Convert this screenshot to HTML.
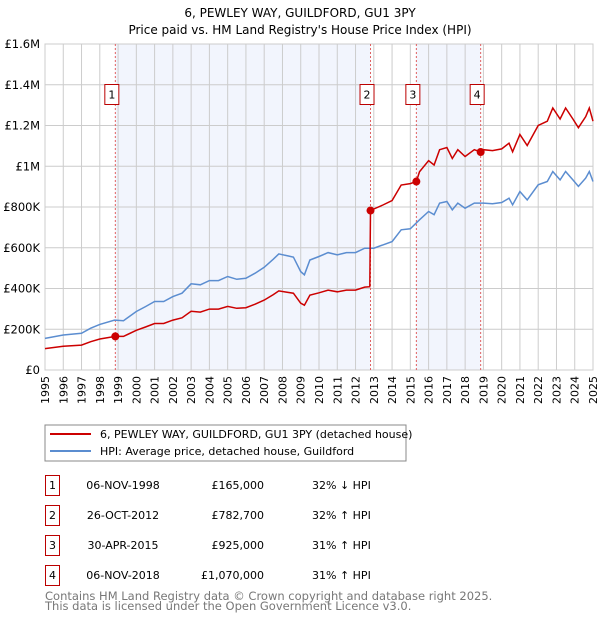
<!DOCTYPE html>
<html><head><meta charset="utf-8"><style>
body{margin:0;background:#fff;font-family:"DejaVu Sans","Liberation Sans",sans-serif;}
svg text{font-family:"DejaVu Sans","Liberation Sans",sans-serif;}
</style></head><body>
<svg id="c" width="600" height="620" xmlns="http://www.w3.org/2000/svg">
<text x="300" y="17" text-anchor="middle" font-size="12">6, PEWLEY WAY, GUILDFORD, GU1 3PY</text>
<text x="300" y="34" text-anchor="middle" font-size="12">Price paid vs. HM Land Registry's House Price Index (HPI)</text>
<g id="plot"></g>
<rect x="45" y="425" width="361" height="36" fill="#fff" stroke="#888"/>
<line x1="50" y1="434" x2="91" y2="434" stroke="#cc0000" stroke-width="2"/>
<text x="100" y="438" font-size="11">6, PEWLEY WAY, GUILDFORD, GU1 3PY (detached house)</text>
<line x1="50" y1="451" x2="91" y2="451" stroke="#5b8dd0" stroke-width="2"/>
<text x="100" y="455" font-size="11">HPI: Average price, detached house, Guildford</text>
<g id="table" font-size="11"></g>
<text x="45" y="600" font-size="11.5" fill="#777">Contains HM Land Registry data © Crown copyright and database right 2025.</text>
<text x="45" y="610" font-size="11.5" fill="#777">This data is licensed under the Open Government Licence v3.0.</text>
</svg>
<script>
const hpiDates=[1995,1996,1997,1997.5,1998,1998.8,1999.3,2000,2000.5,2001,2001.5,2002,2002.5,2003,2003.5,2004,2004.5,2005,2005.5,2006,2006.5,2007,2007.5,2007.8,2008.3,2008.6,2009,2009.2,2009.5,2010,2010.5,2011,2011.5,2012,2012.5,2013,2013.5,2014,2014.5,2015,2015.5,2016,2016.3,2016.6,2017,2017.3,2017.6,2018,2018.5,2019,2019.5,2020,2020.4,2020.6,2021,2021.4,2022,2022.5,2022.8,2023.2,2023.5,2023.9,2024.2,2024.6,2024.8,2025];
const hpiValues=[155,172,180,205,224,245,242,287,311,336,336,360,377,423,418,439,439,459,445,450,475,504,544,570,560,554,483,467,540,557,576,565,576,576,598,598,614,630,688,693,737,778,762,819,827,786,819,794,819,819,816,822,843,811,876,835,909,925,974,933,974,933,901,942,974,925];
const priceDates=[1995,1996,1997,1997.5,1998,1998.85,1999.3,2000,2000.5,2001,2001.5,2002,2002.5,2003,2003.5,2004,2004.5,2005,2005.5,2006,2006.5,2007,2007.5,2007.8,2008.3,2008.6,2009,2009.2,2009.5,2010,2010.5,2011,2011.5,2012,2012.5,2012.78,2012.82,2013,2013.5,2014,2014.5,2015,2015.33,2015.5,2016,2016.3,2016.6,2017,2017.3,2017.6,2018,2018.5,2018.85,2019,2019.5,2020,2020.4,2020.6,2021,2021.4,2022,2022.5,2022.8,2023.2,2023.5,2023.9,2024.2,2024.6,2024.8,2025];
const priceValues=[105,117,122,139,152,165,165,195,211,228,228,245,256,288,284,299,299,312,303,306,323,343,370,388,381,377,328,318,367,379,392,384,392,392,407,409,782.7,790,810,832,908,915,925,973,1027,1006,1081,1092,1038,1081,1048,1081,1070,1081,1077,1085,1113,1071,1156,1102,1200,1221,1286,1232,1286,1232,1189,1243,1286,1221];
const saleLabels=["1","2","3","4"];
const saleDates=[1998.85,2012.82,2015.33,2018.85];
const salePrices=[165,782.7,925,1070];
const saleDateText=["06-NOV-1998","26-OCT-2012","30-APR-2015","06-NOV-2018"];
const salePriceText=["£165,000","£782,700","£925,000","£1,070,000"];
const saleHpiText=["32% ↓ HPI","32% ↑ HPI","31% ↑ HPI","31% ↑ HPI"];
const yTicks=[0,200,400,600,800,1000,1200,1400,1600];
const yTickLabels=["£0","£200K","£400K","£600K","£800K","£1M","£1.2M","£1.4M","£1.6M"];
const X0=45,X1=593,Y0=370,Y1=44;
const xs=y=>X0+(y-1995)/30*(X1-X0);
const ys=v=>Y0-v/1600*(Y0-Y1);
const NS="http://www.w3.org/2000/svg";
const plot=document.getElementById('plot');
function mk(tag,attrs,parent){const e=document.createElementNS(NS,tag);for(const k in attrs)e.setAttribute(k,attrs[k]);(parent||plot).appendChild(e);return e;}
let e;
e=mk('rect',{x:xs(saleDates[0]),y:Y1,width:xs(saleDates[1])-xs(saleDates[0]),height:Y0-Y1,fill:'#f2f5fd'});


e=mk('rect',{x:xs(saleDates[2]),y:Y1,width:xs(saleDates[3])-xs(saleDates[2]),height:Y0-Y1,fill:'#f2f5fd'});


for(let yr=1995;yr<=2025;yr++){
 e=mk('line',{x1:xs(yr),x2:xs(yr),y1:Y1,y2:Y0,stroke:'#ccc','stroke-width':1});
 
 
 e=mk('text',{x:0,y:0,'font-size':11,'text-anchor':'end',transform:`translate(${xs(yr)+4},${Y0+6}) rotate(-90)`});
 e.textContent=String(yr);
 
 
}
yTicks.forEach((v,i)=>{
 e=mk('line',{x1:X0,x2:X1,y1:ys(v),y2:ys(v),stroke:'#ccc','stroke-width':1});
 
 
 e=mk('text',{x:40,y:ys(v)+4,'font-size':11.5,'text-anchor':'end'});
 e.textContent=yTickLabels[i];
 
 
});
e=mk('rect',{x:X0,y:Y1,width:X1-X0,height:Y0-Y1,fill:'none',stroke:'#ccc'});


saleDates.forEach((d,i)=>{
 e=mk('line',{x1:xs(d),x2:xs(d),y1:Y1,y2:Y0,stroke:'#e06060','stroke-dasharray':'2,2','stroke-width':1});
 
 
});
function pts(ds,vs){return ds.map((d,i)=>xs(d).toFixed(1)+','+ys(vs[i]).toFixed(1)).join(' ');}
e=mk('polyline',{points:pts(hpiDates,hpiValues),fill:'none',stroke:'#5b8dd0','stroke-width':1.5});


e=mk('polyline',{points:pts(priceDates,priceValues),fill:'none',stroke:'#cc0000','stroke-width':1.5});


saleDates.forEach((d,i)=>{
 e=mk('circle',{cx:xs(d),cy:ys(salePrices[i]),r:4,fill:'#cc0000'});
 
 
 const bx=xs(d)-10.5;
 e=mk('rect',{x:bx,y:84.5,width:14,height:20,fill:'#fff',stroke:'#b00'});
 
 
 e=mk('text',{x:bx+7,y:98.5,'font-size':11,'text-anchor':'middle'});
 e.textContent=saleLabels[i];
 
 
});
const tb=document.getElementById('table');
saleLabels.forEach((l,i)=>{
 const y=486+i*30;
 e=mk('rect',{x:45.5,y:y-10.5,width:14,height:20,fill:'#fff',stroke:'#b00'},tb);
 
 
 e=mk('text',{x:52.5,y:y+3,'text-anchor':'middle'},tb);e.textContent=l;
 
 
 e=mk('text',{x:123,y:y+3,'text-anchor':'middle'},tb);e.textContent=saleDateText[i];
 
 
 e=mk('text',{x:264,y:y+3,'text-anchor':'end'},tb);e.textContent=salePriceText[i];
 
 
 e=mk('text',{x:312,y:y+3},tb);e.textContent=saleHpiText[i];
 
 
});
</script>
</body></html>
